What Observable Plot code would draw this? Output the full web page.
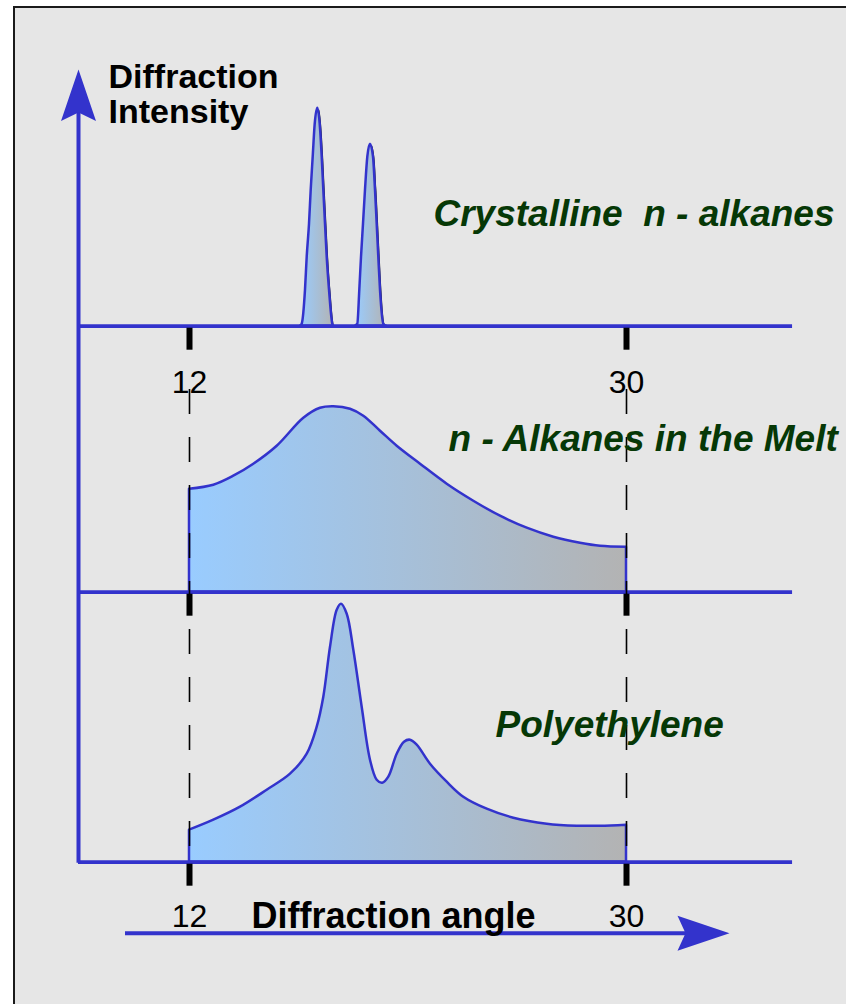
<!DOCTYPE html>
<html><head><meta charset="utf-8">
<script src="https://cdn.jsdelivr.net/npm/d3@7"></script>
<script src="https://cdn.jsdelivr.net/npm/@observablehq/plot@0.6"></script>
<style>
html,body{margin:0;padding:0;background:#fff;overflow:hidden;width:846px;height:1004px;}
#frame{position:absolute;left:13px;top:6px;width:900px;height:1100px;border:2px solid #1a1a1a;background:#e6e6e6;}
#chart{position:absolute;left:0;top:0;}
</style></head><body>
<div id="frame"></div><div id="chart"></div>
<script>
// ---- Data (angle in degrees, intensity in arbitrary units) ----
const panelNames = ["Crystalline  n - alkanes", "n - Alkanes in the Melt", "Polyethylene"];
const panelBaselines = [536, 270, 0];           // vertical offset of each trace

// Crystalline n-alkanes: two sharp peaks
const crystPeak = [1,1,1,1,1,1,1,1,1,1,1,1,1,1,1,1,1, 2,2,2,2,2,2,2,2,2,2,2,2,2,2,2];
const crystAngle = [16.572,16.642,16.778,16.848,16.943,17.013,17.095,17.178,17.285,17.383,17.466,17.532,17.602,17.672,17.767,17.902,17.944,
                    18.837,18.932,19.015,19.085,19.167,19.249,19.344,19.455,19.579,19.661,19.731,19.797,19.867,20.003,20.114];
const crystIntensity = [0,2,36,69,102,136,169,202,218,202,169,136,102,69,36,2,0,
                        0,2,36,69,102,136,169,182,169,136,102,69,36,2,0];

// n-Alkanes in the melt: broad halo
const meltAngle = [12.0,13.001,13.825,14.648,15.612,16.708,17.396,17.944,18.632,19.179,19.867,20.555,21.515,22.615,23.710,24.810,25.910,27.005,28.105,28.929,30.0];
const meltIntensity = [103,107,116,128,146,174,184,185.5,183,176,161,146,128,108,91,76,64,55,49,46,45];

// Polyethylene: two crystalline peaks on amorphous halo
const peAngle = [12.0,13.001,14.101,15.200,16.160,16.848,17.260,17.532,17.808,18.084,18.261,18.496,18.768,19.113,19.455,19.731,19.962,20.209,20.555,20.856,21.103,21.379,21.927,22.615,23.298,24.262,25.358,26.734,27.969,28.929,30.0];
const peIntensity = [32,42,55,72,88,108,135,165,215,252,258,248,212,155,102,82,79,85,108,120,122,117,98,80,65,53,44,38,36,36,37];

// Axis / tick values
const xTicks = [12, 30];
const angleDomain = [12, 30];
const baselineExtent = [7.428, 36.84];
const yAxisAngle = 7.428;
const yAxisTop = 792.7;
const xArrowLevel = -71;
const xArrowExtent = [9.364, 34.243];
const dashTop = 472.7;
const tickLabelRows = [469.7, -64.3];

// Annotation text positions (angle, intensity)
const panelLabelAngle = [22.05, 22.668, 24.604];
const panelLabelLevel = [636.7, 411.7, 125];
const yTitleLines = ["Diffraction", "Intensity"];
const yTitleAngle = 8.664;
const yTitleLevels = [774.7, 739.7];
const xTitle = "Diffraction angle";
const xTitlePos = [14.554, -65.3];

// ---- Build tables ----
const crystRows = crystAngle.map((a, i) => ({x: a, y1: panelBaselines[0], y2: panelBaselines[0] + crystIntensity[i], z: crystPeak[i]}));
const meltRows = meltAngle.map((a, i) => ({x: a, y1: panelBaselines[1], y2: panelBaselines[1] + meltIntensity[i], z: 1}));
const peRows = peAngle.map((a, i) => ({x: a, y1: panelBaselines[2], y2: panelBaselines[2] + peIntensity[i], z: 1}));
const tickRows = panelBaselines.flatMap(b => xTicks.map(t => ({x: t, y: b})));
const tickLabelData = tickLabelRows.flatMap(y => xTicks.map(t => ({x: t, y, text: String(t)})));
const panelLabels = panelNames.map((n, i) => ({x: panelLabelAngle[i], y: panelLabelLevel[i], text: n.replace("  ", "\u00a0 ")}));
const yTitleData = yTitleLines.map((t, i) => ({x: yTitleAngle, y: yTitleLevels[i], text: t}));

const BLUE = "#3333cc";
const FONT = "'Liberation Sans', Arial, Helvetica, sans-serif";

const upArrow = {draw(ctx) { ctx.moveTo(0, 0); ctx.lineTo(17.5, 51.5); ctx.lineTo(0, 43); ctx.lineTo(-17.5, 51.5); ctx.closePath(); }};
const rightArrow = {draw(ctx) { ctx.moveTo(0, 0); ctx.lineTo(-52, 17.5); ctx.lineTo(-44, 0); ctx.lineTo(-52, -17.5); ctx.closePath(); }};

const areaOpts = {x: "x", y1: "y1", y2: "y2", z: "z"};

const svg = Plot.plot({
  width: 846, height: 1004,
  marginTop: 0, marginRight: 0, marginBottom: 0, marginLeft: 0,
  style: {background: "transparent", overflow: "visible", fontFamily: FONT},
  x: {domain: angleDomain, range: [189, 626], axis: null},
  y: {domain: [0, 536], range: [861.7, 325.7], axis: null},
  marks: [
    // trace areas
    Plot.areaY(crystRows, {...areaOpts, curve: "monotone-x", fill: "#1a1a1a", dx: 1.5, dy: 1.5}),
    Plot.areaY(crystRows, {...areaOpts, curve: "monotone-x", fill: "url(#pgrad)", stroke: BLUE, strokeWidth: 2.5}),
    Plot.areaY(meltRows, {...areaOpts, curve: "catmull-rom", fill: "url(#pgrad)", stroke: BLUE, strokeWidth: 2.5}),
    Plot.areaY(peRows, {...areaOpts, curve: "catmull-rom", fill: "url(#pgrad)", stroke: BLUE, strokeWidth: 2.5}),
    // baselines
    Plot.ruleY(panelBaselines, {y: d => d, x1: baselineExtent[0], x2: baselineExtent[1], stroke: BLUE, strokeWidth: 3.7}),
    // ticks
    Plot.ruleX(tickRows, {x: "x", y1: d => d.y, y2: d => d.y - 24, insetTop: 2, stroke: "#000", strokeWidth: 6}),
    // dashed guides
    Plot.ruleX(xTicks, {x: d => d, y1: dashTop, y2: panelBaselines[2], stroke: "#000", strokeWidth: 1.6, strokeDasharray: "25,23"}),
    // y axis
    Plot.ruleX([yAxisAngle], {x: d => d, y1: -1, y2: yAxisTop - 40, stroke: BLUE, strokeWidth: 4}),
    Plot.dot([{x: yAxisAngle, y: yAxisTop}], {x: "x", y: "y", symbol: upArrow, fill: BLUE, stroke: "none"}),
    // x arrow
    Plot.ruleY([xArrowLevel], {y: d => d, x1: xArrowExtent[0], x2: xArrowExtent[1] - 1.6, stroke: BLUE, strokeWidth: 4}),
    Plot.dot([{x: xArrowExtent[1], y: xArrowLevel}], {x: "x", y: "y", symbol: rightArrow, fill: BLUE, stroke: "none"}),
    // tick labels
    Plot.text(tickLabelData, {x: "x", y: "y", text: "text", fontSize: 32, lineAnchor: "bottom", fill: "#000", fontFamily: FONT}),
    // titles
    Plot.text(yTitleData, {x: "x", y: "y", text: "text", textAnchor: "start", lineAnchor: "bottom", fontSize: 34, fontWeight: "bold", fill: "#000", fontFamily: FONT}),
    Plot.text([xTitle], {x: () => xTitlePos[0], y: () => xTitlePos[1], text: d => d, textAnchor: "start", lineAnchor: "bottom", fontSize: 36, fontWeight: "bold", fill: "#000", fontFamily: FONT}),
    Plot.text(panelLabels, {x: "x", y: "y", text: "text", textAnchor: "start", lineAnchor: "bottom", fontSize: 37, fontWeight: "bold", fontStyle: "italic", fill: "#063806", fontFamily: FONT})
  ]
});

// gradient definition used by the trace fills
const defs = d3.select(svg).insert("defs", ":first-child");
const g = defs.append("linearGradient").attr("id", "pgrad").attr("x1", 0).attr("x2", 1).attr("y1", 0).attr("y2", 0);
g.append("stop").attr("offset", "0%").attr("stop-color", "#99ccff");
g.append("stop").attr("offset", "100%").attr("stop-color", "#b3b3b3");

document.getElementById("chart").appendChild(svg);
</script></body></html>
